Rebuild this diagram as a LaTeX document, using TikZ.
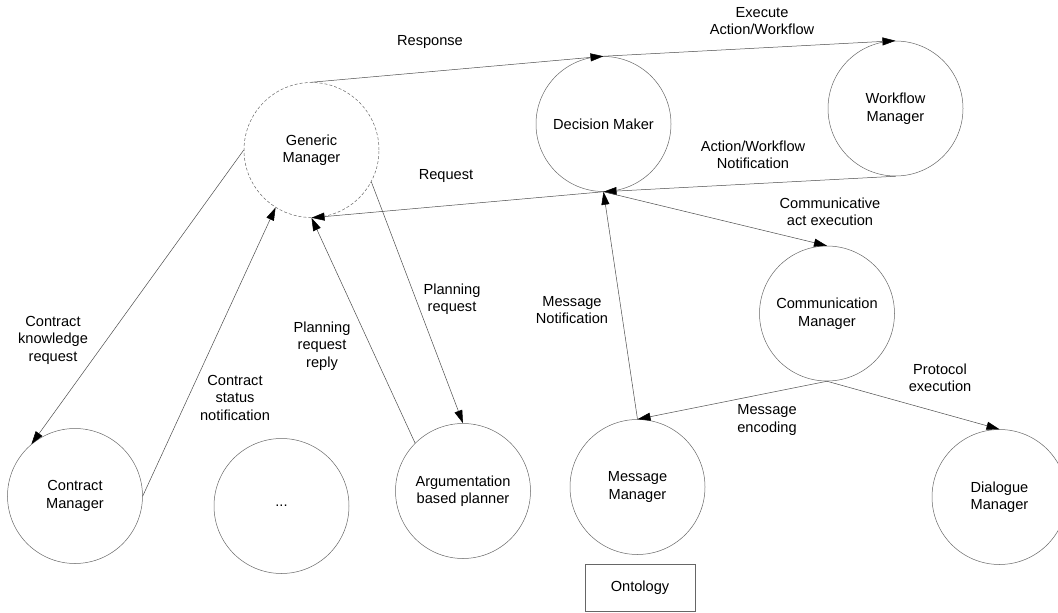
\documentclass[tikz,border=0pt]{standalone}
\usepackage{fontspec}
\setmainfont{Liberation Sans}
\usetikzlibrary{arrows.meta}
\newcommand\diagfont{\fontsize{14.6}{17.5}\selectfont}
\begin{document}
\begin{tikzpicture}[x=1pt,y=-1pt,
  agent/.style={circle, draw=black!60, line width=0.5pt, minimum size=135pt,
                inner sep=0pt, align=center, font=\diagfont},
  generic/.style={agent, dash pattern=on 3pt off 2pt},
  store/.style={rectangle, draw=black!60, line width=0.5pt, minimum width=110pt,
                minimum height=47pt, inner sep=0pt, font=\diagfont},
  flow/.style={draw=black!70, line width=0.5pt,
               -{Triangle[length=13pt,width=8pt,color=black]}},
  lbl/.style={align=center, font=\diagfont, inner sep=0pt}]
\useasboundingbox (0,0) rectangle (1058,613);

% agents
\node[generic] (GM)   at (311.5,150) {Generic\\Manager};
\node[agent]   (DM)   at (603.5,124) {Decision Maker};
\node[agent]   (WM)   at (895.5,108.5) {Workflow\\Manager};
\node[agent]   (CM)   at (827,313.5) {Communication\\Manager};
\node[agent]   (CoM)  at (75,496)    {Contract\\Manager};
\node[agent]   (dots) at (281.5,506) {...};
\node[agent]   (ABP)  at (463,491)   {Argumentation\\based planner};
\node[agent]   (MM)   at (637.5,487) {Message\\Manager};
\node[agent]   (DiaM) at (999.5,497) {Dialogue\\Manager};
\node[store]   (onto) at (640,587.5) {Ontology};

% message flows
\draw[flow] (GM.north) -- (DM.north);
\draw[flow] (DM.north) -- (WM.north);
\draw[flow] (WM.south) -- (DM.south);
\draw[flow] (DM.south) -- (GM.south);
\draw[flow] (DM.south) -- (CM.north);
\draw[flow] (MM.north) -- (DM.south);
\draw[flow] (CM.south) -- (MM.north);
\draw[flow] (CM.south) -- (DiaM.north);
\draw[flow] (GM.west)  -- (CoM.130);
\draw[flow] (CoM.east) -- (GM.238);
\draw[flow] (ABP.135)  -- (GM.south);
\draw[flow] (GM.332)   -- (ABP.north);

% flow labels
\node[lbl] (lresp) at (430,42)    {Response};
\node[lbl] (lexec) at (762,21)    {Execute\\Action/Workflow};
\node[lbl] (lnotf) at (753,155)   {Action/Workflow\\Notification};
\node[lbl] (lreq)  at (446,176)   {Request};
\node[lbl] (lcomm) at (830,212)   {Communicative\\act execution};
\node[lbl] (lmsgn) at (572,310)   {Message\\Notification};
\node[lbl] (lprot) at (940,378)   {Protocol\\execution};
\node[lbl] (lenc)  at (767,420)   {Message\\encoding};
\node[lbl] (lckr)  at (53,340)    {Contract\\knowledge\\request};
\node[lbl] (lcsn)  at (235,397.5) {Contract\\status\\notification};
\node[lbl] (lprr)  at (322,346)   {Planning\\request\\reply};
\node[lbl] (lpr)   at (452,299)   {Planning\\request};
\end{tikzpicture}
\end{document}
